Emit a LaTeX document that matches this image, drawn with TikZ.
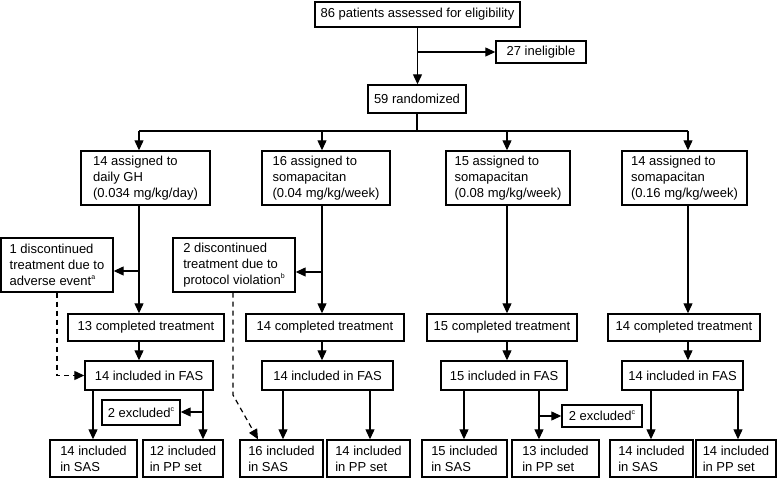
\documentclass[tikz,border=0pt]{standalone}
\usepackage{fontspec}
\setmainfont{Liberation Sans}
\usetikzlibrary{arrows.meta}
\newcommand\supx[1]{\raisebox{0.9ex}{\fontsize{7}{7}\selectfont #1}}
\begin{document}
\begin{tikzpicture}[x=1pt,y=-1pt,
  box/.style={draw, line width=1.4pt, inner sep=0pt, align=left, font=\fontsize{13}{16}\selectfont},
  cbox/.style={box, align=center},
  arr/.style={line width=1.2pt, -{Triangle[length=10pt,width=9pt]}},
  ln/.style={line width=1.2pt},
  dsh/.style={arr, dash pattern=on 5pt off 4pt}]
\useasboundingbox (0,0) rectangle (777,478);
% top
\node[cbox, minimum width=205pt, minimum height=25pt] (top) at (417.5,14.5) {86 patients assessed for eligibility};
\node[cbox, minimum width=90pt, minimum height=22pt] (inel) at (541,52) {27 ineligible};
\node[cbox, minimum width=98pt, minimum height=28pt] (rand) at (417,99) {59 randomized};
% assigned
\node[box, minimum width=129pt, minimum height=54pt] (A1) at (145.5,178) {14 assigned to\\daily GH\\(0.034 mg/kg/day)};
\node[box, minimum width=128pt, minimum height=54pt] (A2) at (326,178) {16 assigned to\\somapacitan\\(0.04 mg/kg/week)};
\node[box, minimum width=124pt, minimum height=54pt] (A3) at (508,178) {15 assigned to\\somapacitan\\(0.08 mg/kg/week)};
\node[box, minimum width=125pt, minimum height=54pt] (A4) at (684.5,178) {14 assigned to\\somapacitan\\(0.16 mg/kg/week)};
% discontinued
\node[box, minimum width=112pt, minimum height=54pt] (D1) at (57,265) {1 discontinued\\treatment due to\\adverse event\supx{a}};
\node[box, minimum width=122pt, minimum height=54pt] (D2) at (234,265) {2 discontinued\\treatment due to\\protocol violation\supx{b}};
% completed
\node[cbox, minimum width=156pt, minimum height=27pt] (C1) at (146,327.5) {13 completed treatment};
\node[cbox, minimum width=158pt, minimum height=27pt] (C2) at (325,327.5) {14 completed treatment};
\node[cbox, minimum width=150pt, minimum height=27pt] (C3) at (502,327.5) {15 completed treatment};
\node[cbox, minimum width=152pt, minimum height=27pt] (C4) at (684,327.5) {14 completed treatment};
% FAS
\node[cbox, minimum width=128pt, minimum height=29pt] (F1) at (149,375.5) {14 included in FAS};
\node[cbox, minimum width=131pt, minimum height=29pt] (F2) at (327.5,375.5) {14 included in FAS};
\node[cbox, minimum width=126pt, minimum height=29pt] (F3) at (504,375.5) {15 included in FAS};
\node[cbox, minimum width=121pt, minimum height=29pt] (F4) at (682.5,375.5) {14 included in FAS};
% excluded
\node[cbox, minimum width=78pt, minimum height=25pt] (X1) at (141,412.5) {2 excluded\supx{c}};
\node[cbox, minimum width=80pt, minimum height=22pt] (X3) at (602,416) {2 excluded\supx{c}};
% bottom
\node[box, minimum width=87pt, minimum height=37pt] (S1) at (93.5,458.5) {14 included\\in SAS};
\node[box, minimum width=80pt, minimum height=37pt] (P1) at (183,458.5) {12 included\\in PP set};
\node[box, minimum width=83pt, minimum height=37pt] (S2) at (281.5,458.5) {16 included\\in SAS};
\node[box, minimum width=83pt, minimum height=37pt] (P2) at (368.5,458.5) {14 included\\in PP set};
\node[box, minimum width=85pt, minimum height=37pt] (S3) at (464.5,458.5) {15 included\\in SAS};
\node[box, minimum width=87pt, minimum height=37pt] (P3) at (555.5,458.5) {13 included\\in PP set};
\node[box, minimum width=83pt, minimum height=37pt] (S4) at (651.5,458.5) {14 included\\in SAS};
\node[box, minimum width=80pt, minimum height=37pt] (P4) at (736,458.5) {14 included\\in PP set};
% coordinates
\coordinate (k1) at (139,131);
\coordinate (k2) at (322,131);
\coordinate (k3) at (507,131);
\coordinate (k4) at (688,131);
\coordinate (d1) at (139,271);
\coordinate (d2) at (322,272);
\coordinate (xa1) at (93,0);
\coordinate (xb1) at (203,0);
\coordinate (xa2) at (283,0);
\coordinate (xb2) at (370,0);
\coordinate (xa3) at (464,0);
\coordinate (xb3) at (539,0);
\coordinate (xa4) at (651,0);
\coordinate (xb4) at (738,0);
\coordinate (e1) at (203,412);
\coordinate (e3) at (539,416);
\coordinate (g2) at (233,395);
\coordinate (h2) at (258,0);
% connectors top
\draw[arr] (top.south) -- (top.south |- rand.north);
\draw[arr] (top.south |- inel.west) -- (inel.west);
\draw[ln] (rand.south) -- (rand.south |- k1);
\draw[ln] (k1) -- (k4);
\foreach \i in {1,2,3,4} {
  \draw[arr] (k\i) -- (A\i.north -| k\i);
  \draw[arr] (A\i.south -| k\i) -- (C\i.north -| k\i);
  \draw[arr] (C\i.south -| k\i) -- (F\i.north -| k\i);
  \draw[arr] (F\i.south -| xa\i) -- (S\i.north -| xa\i);
  \draw[arr] (F\i.south -| xb\i) -- (P\i.north -| xb\i);
}
\draw[arr] (d1) -- (D1.east |- d1);
\draw[arr] (d2) -- (D2.east |- d2);
\draw[arr] (e1) -- (X1.east |- e1);
\draw[arr] (e3) -- (X3.west |- e3);
\draw[dsh] (D1.south) -- (D1.south |- F1.west) -- (F1.west);
\draw[dsh] (D2.south -| g2) -- (g2) -- (S2.north -| h2);
\end{tikzpicture}
\end{document}
